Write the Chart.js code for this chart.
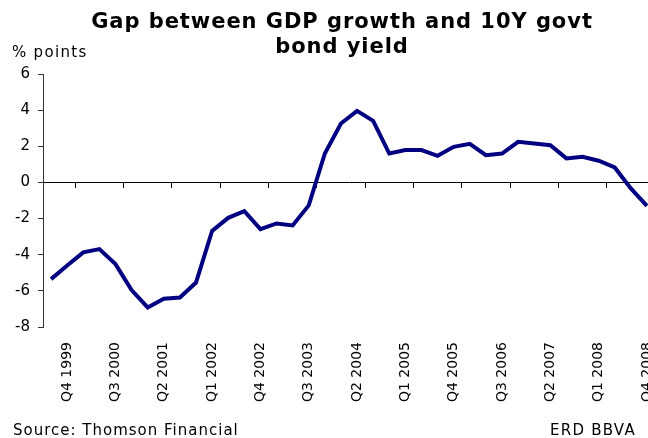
<!DOCTYPE html>
<html>
<head>
<meta charset="utf-8">
<script src="https://cdn.jsdelivr.net/npm/chart.js@4/dist/chart.umd.min.js"></script>
<style>
  html, body { margin: 0; padding: 0; background: #fff; }
  body { width: 648px; height: 438px; overflow: hidden; position: relative; font-family: "DejaVu Sans", sans-serif; color: #000; }
  #wrap { position: absolute; left: 0; top: 0; width: 660px; height: 438px; }
  .txt { position: absolute; white-space: nowrap; }
  #title { left: 0; top: 9px; width: 684px; text-align: center; font-weight: bold; font-size: 21px; line-height: 24.5px; letter-spacing: 0.95px; }
  #units { left: 12px; top: 45px; font-size: 15px; line-height: 15px; letter-spacing: 1.3px; }
  #source { left: 13px; top: 423px; font-size: 15px; line-height: 15px; letter-spacing: 1px; }
  #credit { left: 550px; top: 423px; font-size: 15px; line-height: 15px; letter-spacing: 1.25px; }
</style>
</head>
<body>
<div id="wrap"><canvas id="gapChart" width="660" height="438"></canvas></div>
<div class="txt" id="title">Gap between GDP growth and 10Y govt<br>bond yield</div>
<div class="txt" id="units">% points</div>
<div class="txt" id="source">Source: Thomson Financial</div>
<div class="txt" id="credit">ERD BBVA</div>
<script>
// quarterly data, Q3 1999 .. Q4 2008
const quarters = [
    'Q3 1999', 'Q4 1999',
    'Q1 2000', 'Q2 2000', 'Q3 2000', 'Q4 2000',
    'Q1 2001', 'Q2 2001', 'Q3 2001', 'Q4 2001',
    'Q1 2002', 'Q2 2002', 'Q3 2002', 'Q4 2002',
    'Q1 2003', 'Q2 2003', 'Q3 2003', 'Q4 2003',
    'Q1 2004', 'Q2 2004', 'Q3 2004', 'Q4 2004',
    'Q1 2005', 'Q2 2005', 'Q3 2005', 'Q4 2005',
    'Q1 2006', 'Q2 2006', 'Q3 2006', 'Q4 2006',
    'Q1 2007', 'Q2 2007', 'Q3 2007', 'Q4 2007',
    'Q1 2008', 'Q2 2008', 'Q3 2008', 'Q4 2008'
];

const gap = [
    -5.35, -4.6, -3.87, -3.69, -4.52, -5.96, -6.92, -6.44, -6.37, -5.54,
    -2.68, -1.96, -1.59, -2.58, -2.27, -2.38, -1.27, 1.6, 3.26, 3.96,
    3.41, 1.6, 1.79, 1.79, 1.47, 1.97, 2.14, 1.51, 1.6, 2.25,
    2.16, 2.06, 1.33, 1.42, 1.2, 0.83, -0.33, -1.3
];

const tickLabels = [
    'Q4 1999', 'Q3 2000', 'Q2 2001', 'Q1 2002', 'Q4 2002', 'Q3 2003', 'Q2 2004',
    'Q1 2005', 'Q4 2005', 'Q3 2006', 'Q2 2007', 'Q1 2008', 'Q4 2008'
];

const yTicks = [6, 4, 2, 0, -2, -4, -6, -8];

const ink = '#000';

// keep the plot edges where the original has them
function noSidePadding(s) {
    s.paddingLeft = 0;
    s.paddingRight = 0;
}

new Chart(document.getElementById('gapChart').getContext('2d'), {
    type: 'line',
    data: {
        labels: quarters,
        datasets: [{
            label: 'Gap',
            data: gap,
            borderColor: '#000080',
            borderWidth: 4,
            tension: 0,
            pointRadius: 0,
            fill: false,
            xAxisID: 'x',
            yAxisID: 'y'
        }]
    },
    options: {
        responsive: false,
        animation: false,
        layout: { padding: { left: 0, top: 74, right: 5, bottom: 0 } },
        plugins: {
            legend: { display: false },
            tooltip: { enabled: false }
        },
        scales: {
            x: {
                type: 'category',
                position: 'bottom',
                offset: true,
                grid: { display: false, drawTicks: false },
                border: { display: false },
                ticks: {
                    autoSkip: false,
                    minRotation: 90,
                    maxRotation: 90,
                    padding: 15,
                    color: ink,
                    font: { family: 'DejaVu Sans', size: 14 },
                    callback: (v, i) => tickLabels.includes(quarters[i]) ? quarters[i] : ''
                },
                afterFit: s => { s.height = 111; noSidePadding(s); }
            },
            // zero line with its tick marks, as Excel draws the category axis at 0
            x2: {
                type: 'category',
                labels: quarters,
                axis: 'x',
                position: { y: 0 },
                offset: true,
                grid: {
                    offset: true,
                    drawOnChartArea: false,
                    drawTicks: true,
                    tickLength: 5,
                    color: c => c.index % 3 === 2 ? ink : 'rgba(0,0,0,0)'
                },
                border: { display: true, color: ink, width: 1 },
                ticks: { display: false },
                afterFit: s => { s.height = 0; noSidePadding(s); }
            },
            y: {
                min: -8,
                max: 6,
                grid: { drawOnChartArea: false, drawTicks: true, tickLength: 5, color: '#333' },
                border: { display: true, color: '#333', width: 1 },
                afterBuildTicks: s => { s.ticks = yTicks.map(v => ({ value: v })); },
                ticks: {
                    padding: 8,
                    color: ink,
                    font: { family: 'DejaVu Sans', size: 15 }
                },
                afterFit: s => { s.width = 43; }
            }
        }
    }
});
</script>
</body>
</html>
